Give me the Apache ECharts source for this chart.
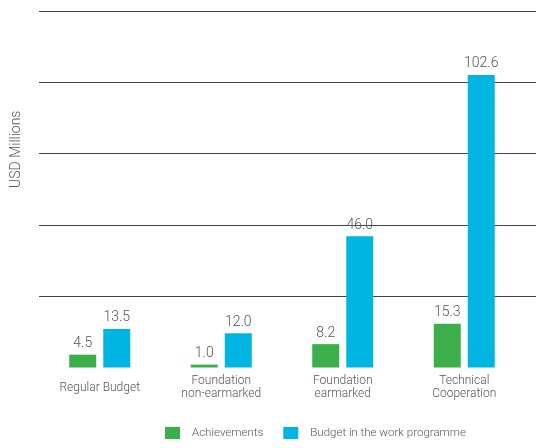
<!DOCTYPE html>
<html><head><meta charset="utf-8">
<script src="https://cdn.jsdelivr.net/npm/echarts@6/dist/echarts.min.js"></script>
<style>html,body{margin:0;padding:0;background:#fff}#c{width:536px;height:448px}</style>
</head><body><div id="c"></div>
<script>
const categories = ['Regular Budget', 'Foundation\nnon-earmarked', 'Foundation\nearmarked', 'Technical\nCooperation'];
const achievements = [4.5, 1.0, 8.2, 15.3];
const budget = [13.5, 12.0, 46.0, 102.6];
const seriesNames = ['Achievements', 'Budget in the work programme'];

const chart = echarts.init(document.getElementById('c'));
const font = {color: '#555', fontFamily: 'Roboto', fontWeight: 300};
const lbl = Object.assign({show: true, position: 'top', distance: 4, fontSize: 14, formatter: p => p.value.toFixed(1)}, font);
chart.setOption({
  animation: false,
  grid: [
    {left: 39, right: 0, top: 11, bottom: 80.5},
    {left: 39, right: 11, top: 11, bottom: 80.5}
  ],
  legend: {bottom: 9, left: 165, padding: 0, itemWidth: 15, itemHeight: 12, itemGap: 20, icon: 'rect',
    textStyle: Object.assign({fontSize: 11.5, padding: [0, 0, 0, 7]}, font),
    data: seriesNames},
  xAxis: [
    {type: 'category', gridIndex: 0, data: categories, show: false},
    {type: 'category', gridIndex: 1, data: categories,
      axisLine: {show: false}, axisTick: {show: false},
      axisLabel: Object.assign({fontSize: 12, margin: 20, lineHeight: 13.5, verticalAlign: 'middle'}, font)}
  ],
  yAxis: [
    {type: 'value', gridIndex: 0, min: 0, max: 125, interval: 25,
      name: 'USD Millions', nameLocation: 'middle', nameGap: 16, nameRotate: 90,
      nameTextStyle: Object.assign({fontSize: 14, padding: [0, 0, 0, 80]}, font),
      axisLine: {show: false}, axisTick: {show: false}, axisLabel: {show: false},
      splitLine: {show: true, showMinLine: false, lineStyle: {color: '#444', width: 1}}},
    {type: 'value', gridIndex: 1, min: 0, max: 125, interval: 25, show: false, splitLine: {show: false}}
  ],
  series: [
    {name: seriesNames[0], type: 'bar', xAxisIndex: 1, yAxisIndex: 1, data: achievements, barWidth: 27, barGap: '26%', itemStyle: {color: '#3daf4a'}, label: lbl},
    {name: seriesNames[1], type: 'bar', xAxisIndex: 1, yAxisIndex: 1, data: budget, barWidth: 27, itemStyle: {color: '#00b5e2'}, label: lbl}
  ]
});
</script></body></html>
